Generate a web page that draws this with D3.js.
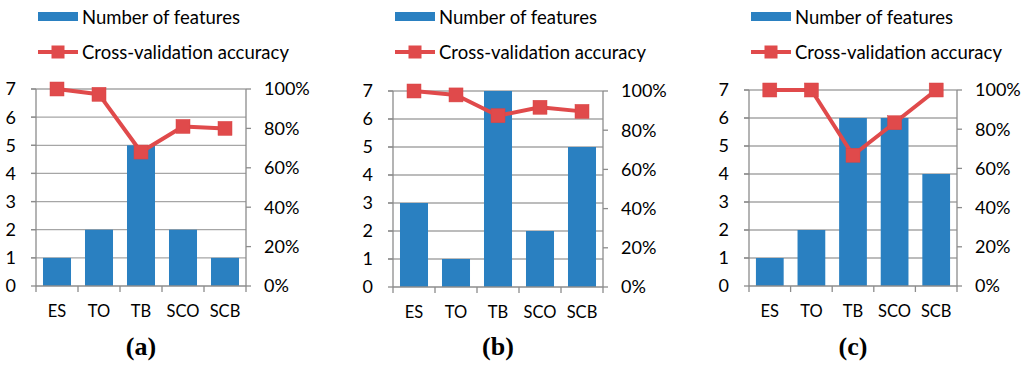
<!DOCTYPE html>
<html>
<head>
<meta charset="utf-8">
<script src="https://cdn.jsdelivr.net/npm/d3@7"></script>
<style>
html,body{margin:0;padding:0;background:#fff;}
svg{display:block;}
</style>
</head>
<body>
<svg id="chart" width="1024" height="365"></svg>
<script>
// ---- data ----
const categories = ["ES", "TO", "TB", "SCO", "SCB"];
const panelTitles = ["(a)", "(b)", "(c)"];
const featuresA = [1, 2, 5, 2, 1];
const accuracyA = [1.00, 0.973, 0.68, 0.81, 0.80];
const featuresB = [3, 1, 7, 2, 5];
const accuracyB = [1.00, 0.98, 0.874, 0.917, 0.896];
const featuresC = [1, 2, 6, 6, 4];
const accuracyC = [1.00, 1.00, 0.667, 0.833, 1.00];
const leftTicks = [0, 1, 2, 3, 4, 5, 6, 7];
const rightTicks = [0, 0.2, 0.4, 0.6, 0.8, 1.0];
const legendLabels = ["Number of features", "Cross-validation accuracy"];

const BLUE = "#2a80c1", RED = "#e04a4b", GRID = "#a6a6a6", AXIS = "#8c8c8c";
const FONT = "Lato, 'Open Sans', sans-serif";

const panels = [
  {features: featuresA, accuracy: accuracyA, title: panelTitles[0], left: 36, right: 246, top: 89, bottom: 286},
  {features: featuresB, accuracy: accuracyB, title: panelTitles[1], left: 393, right: 603, top: 91, bottom: 287},
  {features: featuresC, accuracy: accuracyC, title: panelTitles[2], left: 749, right: 957, top: 90, bottom: 286}
];

const svg = d3.select("#chart");

panels.forEach(p => {
  const g = svg.append("g");
  const x = d3.scaleBand().domain(categories).range([p.left, p.right]).paddingInner(0.333).paddingOuter(0.1665);
  const yL = d3.scaleLinear().domain([0, 7]).range([p.bottom, p.top]);
  const yR = d3.scaleLinear().domain([0, 1]).range([p.bottom, p.top]);
  const step = x.step();

  // gridlines (with small left tick extension)
  g.selectAll(".grid").data(leftTicks.filter(d => d > 0)).enter().append("line")
    .attr("x1", p.left - 5).attr("x2", p.right)
    .attr("y1", d => yL(d)).attr("y2", d => yL(d))
    .attr("stroke", GRID).attr("stroke-width", 1.3);

  // bars
  g.selectAll(".bar").data(categories).enter().append("rect")
    .attr("x", (c) => x(c)).attr("width", x.bandwidth())
    .attr("y", (c, i) => yL(p.features[i]))
    .attr("height", (c, i) => yL(0) - yL(p.features[i]))
    .attr("fill", BLUE);

  // left axis line and ticks
  g.append("line").attr("x1", p.left).attr("x2", p.left).attr("y1", p.top).attr("y2", p.bottom)
    .attr("stroke", AXIS).attr("stroke-width", 1.3);
  g.selectAll(".lt").data(leftTicks).enter().append("line")
    .attr("x1", p.left - 5).attr("x2", p.left).attr("y1", d => yL(d)).attr("y2", d => yL(d))
    .attr("stroke", AXIS).attr("stroke-width", 1.3);
  g.selectAll(".ll").data(leftTicks).enter().append("text")
    .attr("x", p.left - 20).attr("y", d => yL(d)).attr("dy", "0.36em")
    .attr("text-anchor", "end").attr("font-family", FONT).attr("font-size", 18)
    .attr("fill", "#000").text(d => d);

  // right axis
  g.append("line").attr("x1", p.right).attr("x2", p.right).attr("y1", p.top).attr("y2", p.bottom)
    .attr("stroke", AXIS).attr("stroke-width", 1.3);
  g.selectAll(".rt").data(rightTicks).enter().append("line")
    .attr("x1", p.right).attr("x2", p.right + 5).attr("y1", d => yR(d)).attr("y2", d => yR(d))
    .attr("stroke", AXIS).attr("stroke-width", 1.3);
  g.selectAll(".rl").data(rightTicks).enter().append("text")
    .attr("x", p.right + 18).attr("y", d => yR(d)).attr("dy", "0.36em")
    .attr("text-anchor", "start").attr("font-family", FONT).attr("font-size", 18)
    .attr("fill", "#000").text(d => d3.format(".0%")(d));

  // x axis
  g.append("line").attr("x1", p.left).attr("x2", p.right).attr("y1", p.bottom).attr("y2", p.bottom)
    .attr("stroke", AXIS).attr("stroke-width", 1.3);
  const bounds = categories.map(c => x(c) - (step - x.bandwidth()) / 2).concat([p.right]);
  g.selectAll(".xt").data(bounds).enter().append("line")
    .attr("x1", d => d).attr("x2", d => d).attr("y1", p.bottom).attr("y2", p.bottom + 6)
    .attr("stroke", AXIS).attr("stroke-width", 1.3);
  g.selectAll(".xl").data(categories).enter().append("text")
    .attr("x", c => x(c) + x.bandwidth() / 2).attr("y", p.bottom + 31)
    .attr("text-anchor", "middle").attr("font-family", FONT).attr("font-size", 16.5)
    .attr("fill", "#000").text(c => c);

  // line series
  const line = d3.line().x((d, i) => x(categories[i]) + x.bandwidth() / 2).y(d => yR(d));
  g.append("path").datum(p.accuracy).attr("d", line)
    .attr("fill", "none").attr("stroke", RED).attr("stroke-width", 4).attr("stroke-linejoin", "round");
  g.selectAll(".mk").data(p.accuracy).enter().append("rect")
    .attr("x", (d, i) => x(categories[i]) + x.bandwidth() / 2 - 7)
    .attr("y", d => yR(d) - 7).attr("width", 14).attr("height", 14)
    .attr("fill", RED).attr("stroke", "#d84444").attr("stroke-width", 0.5);

  // legend
  const lx = p.left + 2;
  g.append("rect").attr("x", lx).attr("y", 12).attr("width", 40).attr("height", 9).attr("fill", BLUE);
  g.append("text").attr("x", lx + 44).attr("y", 17).attr("dy", "0.36em")
    .attr("font-family", FONT).attr("font-size", 18.5).attr("fill", "#000").text(legendLabels[0]);
  g.append("line").attr("x1", lx).attr("x2", lx + 40).attr("y1", 52).attr("y2", 52)
    .attr("stroke", RED).attr("stroke-width", 4);
  g.append("rect").attr("x", lx + 20 - 6.5).attr("y", 52 - 6.5).attr("width", 13).attr("height", 13).attr("fill", RED);
  g.append("text").attr("x", lx + 44).attr("y", 52).attr("dy", "0.36em")
    .attr("font-family", FONT).attr("font-size", 18.5).attr("fill", "#000").text(legendLabels[1]);

  // title
  g.append("text").attr("x", (p.left + p.right) / 2).attr("y", 355)
    .attr("text-anchor", "middle").attr("font-family", "'Liberation Serif', 'Times New Roman', serif")
    .attr("font-weight", "bold").attr("font-size", 26).attr("fill", "#000").text(p.title);
});
</script>
</body>
</html>
